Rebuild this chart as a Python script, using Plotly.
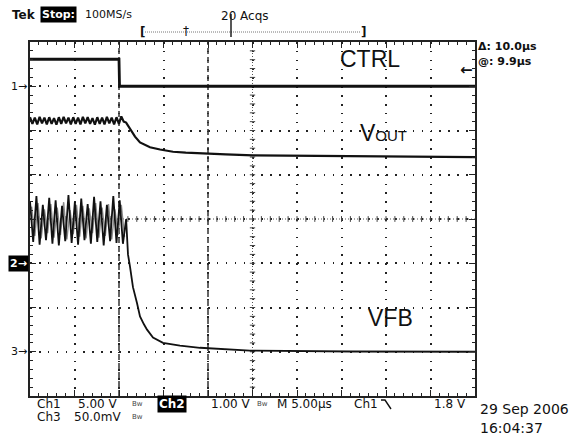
import plotly.graph_objects as go
import numpy as np

# ---- acquisition / channel setup -------------------------------------------
T_LEFT, T_RIGHT = -10.0, 40.0          # us, 5 us/div over 10 divisions
CH1_SCALE, CH1_POS = 5.0, 3.0          # CTRL  (V/div, ground marker in div)
CH2_SCALE, CH2_POS = 1.0, -1.0         # VOUT  (V/div)
CH3_SCALE, CH3_POS = 50.0, -3.0        # VFB   (mV/div)
TRIG_LEVEL = 1.8                       # V on Ch1
CURSOR_A, CURSOR_B = 0.0, 10.0         # us

# ---- waveforms --------------------------------------------------------------
ctrl_t = [-10.0, 0.0, 0.06, 40.0]
ctrl_v = [3.05, 3.05, 0.0, 0.0]

# VOUT switching ripple before the edge: extremes spaced by a fixed sample step
vout_ripple_start, vout_ripple_step = -10.0, 0.27
vout_ripple_v = [3.30, 3.15, 3.29, 3.14, 3.31, 3.16, 3.29, 3.14, 3.30, 3.15,
                 3.28, 3.13, 3.30, 3.15, 3.31, 3.16, 3.29, 3.14, 3.30, 3.15,
                 3.29, 3.14, 3.31, 3.16, 3.30, 3.15, 3.28, 3.13, 3.30, 3.15,
                 3.29, 3.14, 3.31, 3.16, 3.29, 3.14, 3.30, 3.15, 3.32, 3.20]
vout_tail_t = [0.8, 1.24, 1.8, 2.36, 3.0, 3.48, 4.61, 6.07, 7.5, 9.1,
               12.0, 15.06, 20.3, 26.0, 31.6, 40.0]
vout_tail_v = [3.18, 3.05, 2.86, 2.73, 2.66, 2.62, 2.57, 2.52, 2.50, 2.48,
               2.46, 2.44, 2.43, 2.42, 2.41, 2.40]

# VFB ripple, two overlaid acquisitions (dark and light)
vfb_ripple_start, vfb_ripple_step = -10.0, 0.36
vfb_ripple_mv = [170, 124, 176, 121, 166, 126, 174, 122, 171, 120,
                 165, 125, 177, 123, 169, 121, 173, 126, 167, 122,
                 175, 124, 170, 120, 166, 125, 176, 123, 171, 122, 150]
vfb_ghost_start = -9.82
vfb_ghost_mv = [164, 131, 168, 128, 161, 134, 167, 129, 163, 132,
                169, 127, 160, 133, 166, 130, 165, 128, 162, 134,
                168, 129, 163, 131, 167, 127, 161, 132, 166, 130]
vfb_tail_t = [1.01, 1.24, 1.57, 2.02, 2.36, 2.8, 3.15, 3.82, 4.94, 6.85,
              9.1, 14.7, 20.3, 26.0, 40.0]
vfb_tail_mv = [110, 96, 73, 55, 40, 31, 25, 16, 10, 7,
               4.5, 1.2, 0.6, 0.3, 0.0]


def to_div(vals, scale, pos):
    return [v / scale + pos for v in vals]


def sample_times(start, step, n):
    return [start + step * i for i in range(n)]


vout_t = sample_times(vout_ripple_start, vout_ripple_step, len(vout_ripple_v)) + vout_tail_t
vout_v = vout_ripple_v + vout_tail_v
vfb_t = sample_times(vfb_ripple_start, vfb_ripple_step, len(vfb_ripple_mv)) + vfb_tail_t
vfb_v = vfb_ripple_mv + vfb_tail_mv
ghost_t = sample_times(vfb_ghost_start, vfb_ripple_step, len(vfb_ghost_mv))

fig = go.Figure()
fig.add_trace(go.Scatter(x=ghost_t, y=to_div(vfb_ghost_mv, CH3_SCALE, CH3_POS),
                         mode="lines", line=dict(color="#8a8a8a", width=1.4)))
fig.add_trace(go.Scatter(x=vfb_t, y=to_div(vfb_v, CH3_SCALE, CH3_POS),
                         mode="lines", line=dict(color="#111", width=1.8)))
fig.add_trace(go.Scatter(x=vout_t, y=to_div(vout_v, CH2_SCALE, CH2_POS),
                         mode="lines", line=dict(color="#111", width=2.2)))
fig.add_trace(go.Scatter(x=ctrl_t, y=to_div(ctrl_v, CH1_SCALE, CH1_POS),
                         mode="lines", line=dict(color="#111", width=2.8)))

# ---- graticule --------------------------------------------------------------
axis_common = dict(showticklabels=False, zeroline=False, showline=True,
                   linecolor="#222", linewidth=1.6, mirror="ticks",
                   ticks="inside", tickcolor="#222", ticklen=6, tickwidth=1,
                   gridcolor="#222", gridwidth=1.8)
fig.update_xaxes(range=[T_LEFT, T_RIGHT], tick0=0, dtick=5, griddash="1.6px,7.25px",
                 minor=dict(dtick=1, ticks="inside", ticklen=3, tickcolor="#222",
                            showgrid=False),
                 **axis_common)
fig.update_yaxes(range=[-4, 4], tick0=0, dtick=1, griddash="1.6px,7.3px",
                 minor=dict(dtick=0.2, ticks="inside", ticklen=3, tickcolor="#222",
                            showgrid=False),
                 **axis_common)

shapes = []
t_mid = (T_LEFT + T_RIGHT) / 2
# centre crosshair with minor ticks
shapes.append(dict(type="line", xref="x", yref="y", x0=T_LEFT, x1=T_RIGHT, y0=0, y1=0,
                   line=dict(color="#555", width=1, dash="1px,2px"), layer="between"))
shapes.append(dict(type="line", xref="x", yref="y", x0=t_mid, x1=t_mid, y0=-4, y1=4,
                   line=dict(color="#555", width=1, dash="1px,2px"), layer="between"))
for t in np.arange(T_LEFT + 1, T_RIGHT, 1.0):
    shapes.append(dict(type="line", xref="x", yref="y", x0=t, x1=t, y0=-0.065, y1=0.065,
                       line=dict(color="#444", width=1), layer="between"))
for d in np.arange(-3.8, 4.0, 0.2):
    shapes.append(dict(type="line", xref="x", yref="y", x0=t_mid - 0.3, x1=t_mid + 0.3,
                       y0=d, y1=d, line=dict(color="#444", width=1), layer="between"))
# time cursors
for t in (CURSOR_A, CURSOR_B):
    shapes.append(dict(type="line", xref="x", yref="y", x0=t, x1=t, y0=-4, y1=4,
                       line=dict(color="#333", width=1.5, dash="6px,3px"), layer="between"))


def fx(px):
    return (px - 30) / 445


def fy(py):
    return (396 - py) / 354


# record-length bar above the graticule
shapes.append(dict(type="line", xref="paper", yref="paper", x0=fx(145), x1=fx(361),
                   y0=fy(32), y1=fy(32), line=dict(color="#777", width=1, dash="1px,1px")))
shapes.append(dict(type="line", xref="paper", yref="paper", x0=fx(231), x1=fx(231),
                   y0=fy(14), y1=fy(37), line=dict(color="#111", width=1.4)))
# falling-edge trigger symbol
shapes.append(dict(type="path", xref="paper", yref="paper",
                   path=f"M {fx(381)} {fy(400)} L {fx(385)} {fy(400)} L {fx(391)} {fy(409)}",
                   line=dict(color="#111", width=1.4)))
fig.update_layout(shapes=shapes)

UI = "DejaVu Sans"
LBL = "Liberation Sans"
ann = []


def text(px, py, s, size=11, anchor="left", color="#111", bold=False, bg=None, font=UI,
         xref="paper", yref="paper", x=None, y=None, pad=1):
    a = dict(x=fx(px) if x is None else x, y=fy(py) if y is None else y,
             xref=xref, yref=yref, text=f"<b>{s}</b>" if bold else s, showarrow=False,
             xanchor=anchor, yanchor="middle", font=dict(family=font, size=size, color=color),
             borderpad=pad)
    if bg:
        a["bgcolor"] = bg
    ann.append(a)


# header
text(10, 15, "Tek", size=12, bold=True)
text(40, 15, "Stop:", bold=True, color="white", bg="black")
text(83, 15, "100MS/s")
text(219, 16, "20 Acqs", size=12)
text(142, 32, "[", size=12, anchor="center", bold=True)
text(363, 32, "]", size=12, anchor="center", bold=True)
text(186, 31, "†", size=12, anchor="center")

# cursor readout
text(477, 46, "Δ: 10.0µs", size=11, bold=True, pad=0)
text(477, 61, "@: 9.9µs", size=11, bold=True, pad=0)

# channel ground markers and trigger level
text(29, 0, "1→", anchor="right", yref="y", y=CH1_POS)
text(29, 0, "2→", anchor="right", yref="y", y=CH2_POS, color="white", bg="black", bold=True)
text(29, 0, "3→", anchor="right", yref="y", y=CH3_POS)
text(475, 0, "<b>←</b>", anchor="right", size=15, yref="y",
     y=CH1_POS + TRIG_LEVEL / CH1_SCALE)

# trace labels
text(370, 59, "CTRL", size=23, anchor="center", font=LBL)
text(383, 133, "V<span style='font-size:15px'>OUT</span>", size=23, anchor="center", font=LBL)
text(390, 318, "VFB", size=23, anchor="center", font=LBL)

# bottom status lines
text(35, 404, "Ch1", size=12)
text(120, 404, "5.00 V", size=12, anchor="right")
text(137, 404, "Bw", size=7, anchor="center", color="#444")
text(157, 404, "Ch2", size=12, color="white", bg="black", bold=True)
text(253, 404, "1.00 V", size=12, anchor="right")
text(262, 404, "Bw", size=7, anchor="center", color="#444")
text(275, 404, "M 5.00µs", size=12)
text(352, 404, "Ch1", size=12)
text(468, 404, "1.8 V", size=12, anchor="right")
text(35, 417, "Ch3", size=12)
text(123, 417, "50.0mV", size=12, anchor="right")
text(137, 417, "Bw", size=7, anchor="center", color="#444")
text(478, 409, "29 Sep 2006", size=14)
text(478, 428, "16:04:37", size=14)

fig.update_layout(
    annotations=ann,
    width=569, height=436,
    margin=dict(l=30, r=94, t=42, b=40),
    paper_bgcolor="white", plot_bgcolor="white",
    showlegend=False,
)
fig.write_html("out.html")
